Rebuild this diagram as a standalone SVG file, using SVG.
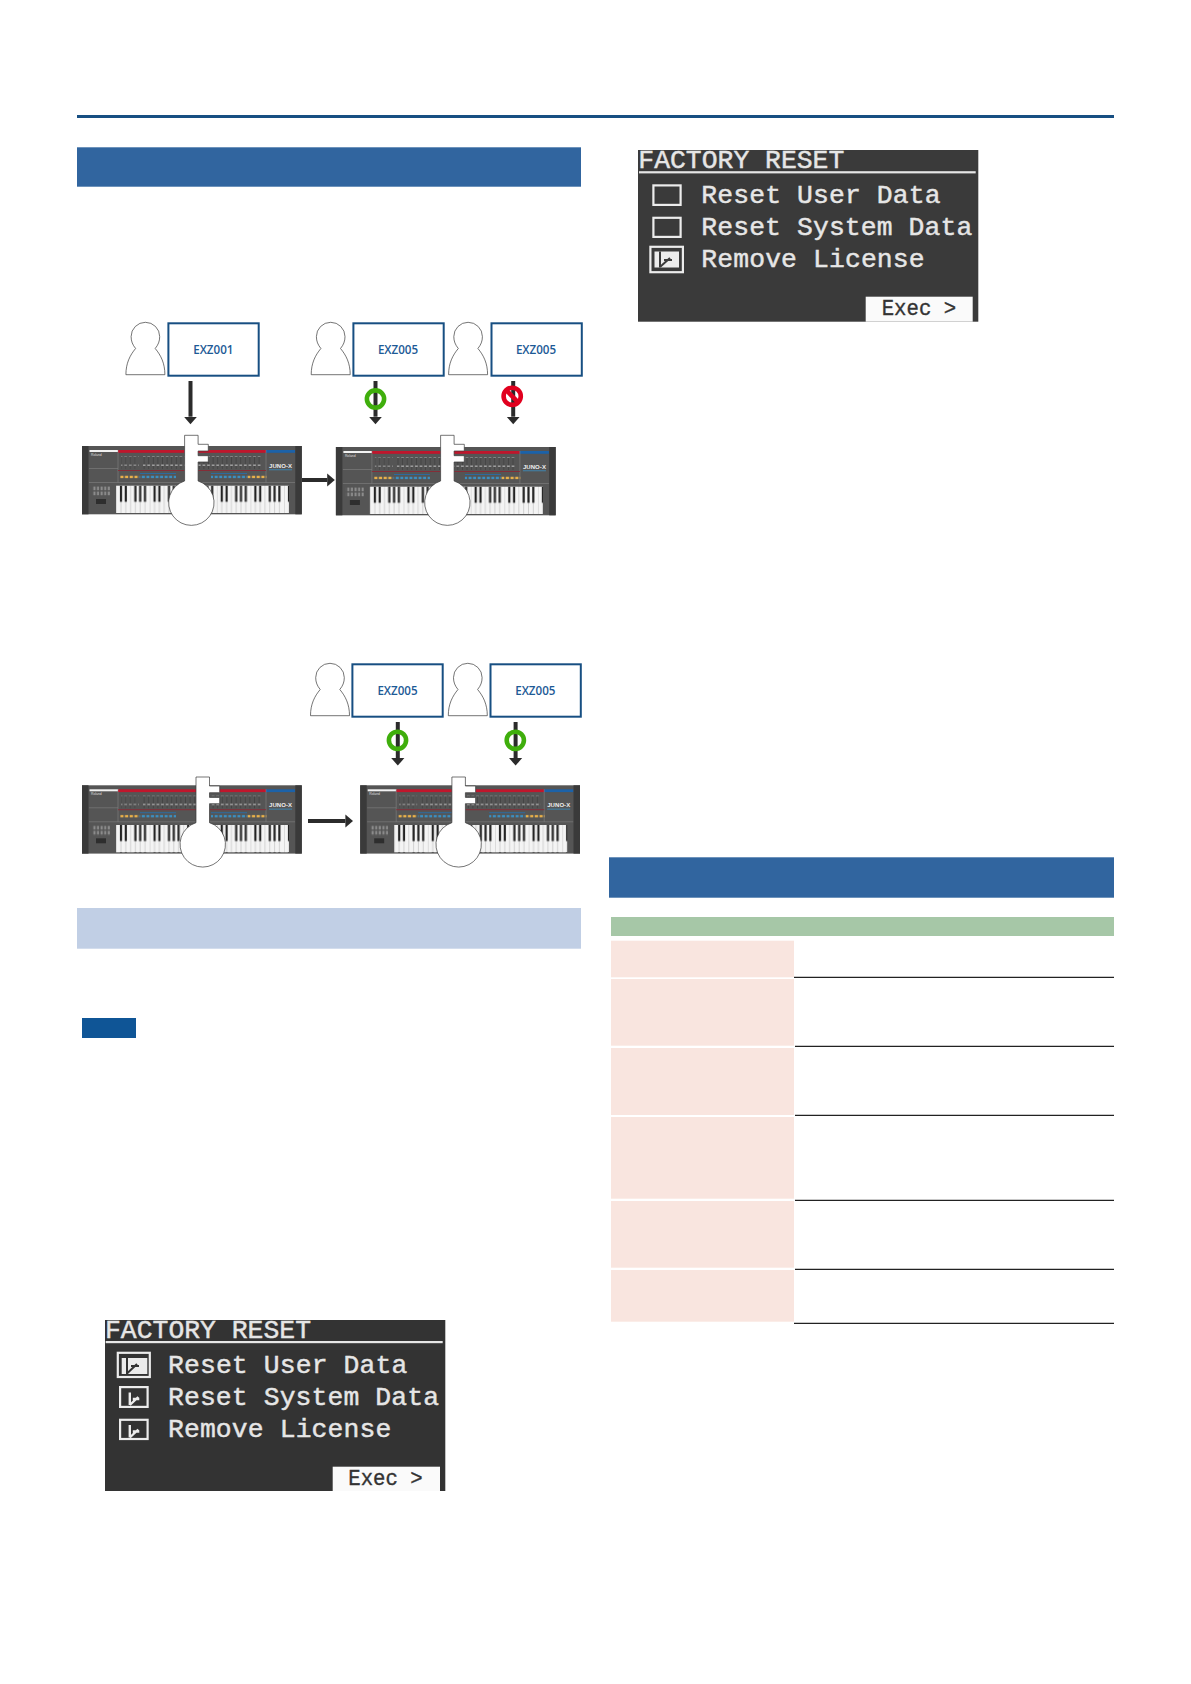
<svg xmlns="http://www.w3.org/2000/svg" xmlns:xlink="http://www.w3.org/1999/xlink" width="1191" height="1684" viewBox="0 0 1191 1684">
<style>
.bar{fill:#31659f}
.lic{fill:#fff;stroke:#174f82;stroke-width:2}
.lbl{font-family:"Open Sans","Liberation Sans",sans-serif;font-size:11.6px;font-weight:600;fill:#1d5a96;text-anchor:middle}
.person{fill:#fff;stroke:#3a3a3a;stroke-width:.7}
.key{fill:#fff;stroke:#3a3a3a;stroke-width:.7}
.wire{stroke:#2b2b2b;stroke-width:4;fill:none;marker-end:url(#head)}
.ok{fill:none;stroke:#3fae0c;stroke-width:4.6}
.no{fill:none;stroke:#e1001e;stroke-width:4.6}
.lcd{font-family:"Liberation Mono",monospace;font-size:26.4px;fill:#e6e6e6;stroke:#e6e6e6;stroke-width:.45}
.exec{font-family:"Liberation Mono",monospace;font-size:22px;fill:#333;stroke:#333;stroke-width:.35}
.frame{fill:none;stroke:#ececec;stroke-width:2.2}
.tick{fill:none;stroke:#ececec;stroke-width:2.4}
.cell{fill:#f9e5df}
.rule{stroke:#222;stroke-width:1.2}
</style>
<defs>
<marker id="head" markerUnits="userSpaceOnUse" viewBox="0 -7 8 14" refX="0" refY="0" markerWidth="8" markerHeight="14" orient="auto"><path d="M0 -6.6L7.6 0L0 6.6Z" fill="#2b2b2b"/></marker>
<pattern id="keys" patternUnits="userSpaceOnUse" x="34" y="39.7" width="33.6" height="27.3">
<rect width="33.6" height="27.3" fill="#f4f4f4"/>
<path d="M.2 0V28M5 0V28M9.8 0V28M14.6 0V28M19.4 0V28M24.2 0V28M29 0V28" stroke="#a5a5a5" stroke-width=".45"/>
<path d="M3.9 0h2.2v16h-2.2zM8.7 0h2.2v16h-2.2zM18.3 0h2.2v16h-2.2zM23.1 0h2.2v16h-2.2zM27.9 0h2.2v16h-2.2z" fill="#232323"/>
</pattern>
<pattern id="sliders" patternUnits="userSpaceOnUse" width="4.6" height="14">
<rect x="2" width=".6" height="14" fill="#3a3a3a"/>
<rect x="1" y="4.5" width="2.6" height="1.4" fill="#a8a8a8"/>
<rect x="1" y="10" width="2.6" height=".9" fill="#8a8a8a"/>
</pattern>
<pattern id="blueb" patternUnits="userSpaceOnUse" width="4.55" height="3"><rect x=".7" width="3" height="2.6" fill="#3b8fc2"/></pattern>
<pattern id="orab" patternUnits="userSpaceOnUse" width="4.7" height="3"><rect x=".7" width="3.2" height="2.6" fill="#e8b04a"/></pattern>
<pattern id="pads" patternUnits="userSpaceOnUse" width="3.6" height="5"><rect x=".6" y=".6" width="2" height="3.6" fill="#8d8d8d"/></pattern>
<g id="synth">
<rect width="219.8" height="68.3" fill="#555"/>
<rect width="6.5" height="68.3" fill="#3a3a3a"/>
<rect x="213.3" width="6.5" height="68.3" fill="#3a3a3a"/>
<rect x="7.5" y="4" width="29" height="2" fill="#f2f2f2"/>
<rect x="36" y="4" width="148" height="2.8" fill="#c0162c"/>
<rect x="184" y="4" width="29" height="2.8" fill="#1c62a8"/>
<path d="M7 22.5H36M7 36.5H213M36 4V36.5M184 4V36.5" stroke="#8a8a8a" stroke-width=".5" fill="none"/>
<rect x="36" y="24" width="148" height=".9" fill="#8b2a35"/>
<rect x="58" y="27" width="36" height=".9" fill="#2a6ea8"/>
<rect x="129" y="27" width="36" height=".9" fill="#2a6ea8"/>
<rect x="61" y="10" width="119" height="13" fill="url(#sliders)"/>
<rect x="39" y="10" width="18" height="13" fill="url(#sliders)" opacity=".7"/>
<rect x="38" y="29.6" width="18.8" height="2.6" fill="url(#orab)"/>
<rect x="57.6" y="29.6" width="36.4" height="2.6" fill="url(#blueb)"/>
<rect x="129" y="29.6" width="36.4" height="2.6" fill="url(#blueb)"/>
<rect x="165.6" y="29.6" width="18.8" height="2.6" fill="url(#orab)"/>
<text x="9" y="9.8" font-family="Liberation Sans,sans-serif" font-size="3.4" fill="#ddd">Roland</text>
<text x="187" y="21.5" font-family="Liberation Sans,sans-serif" font-size="6" font-weight="700" fill="#eee" textLength="23">JUNO-X</text>
<rect x="187" y="23.4" width="23" height=".8" fill="#3b8fc2"/>
<rect x="10" y="40" width="18" height="10" fill="url(#pads)"/>
<rect x="14" y="53" width="10" height="5" fill="#2e2e2e"/>
<rect x="34" y="39.7" width="173" height="27.3" fill="url(#keys)"/>
</g>
<path id="man" class="person" d="M-19.5 52.4C-19.5 41 -15.5 33 -9.8 26.2C-12.8 22.5 -14.3 19 -14.3 14.3A14.3 14.3 0 0 1 14.3 14.3C14.3 19 12.8 22.5 9.8 26.2C15.5 33 19.5 41 19.5 52.4Z"/>
<path id="keyshape" class="key" d="M0 0H13.5V9H23.7V15.7H13.5V20.4H23.7V26.7H13.5V45.7A22.7 22.7 0 1 1 0 45.7Z"/>
<g id="check"><path class="tick" d="M0 0V12.5M0 12.5L8.5 4.5M3 6.5H9.5"/></g>
</defs>

<rect id="top-rule" x="77" y="115" width="1037" height="3" fill="#174f82"/>
<rect id="head-1" class="bar" x="77" y="147.3" width="504" height="39.4"/>

<g id="user-1"><use xlink:href="#man" href="#man" x="145.4" y="322.3"/><rect class="lic" x="168.4" y="323.3" width="90.3" height="52.4"/><text class="lbl" x="213.3" y="354">EXZ001</text></g>
<g id="user-2"><use xlink:href="#man" href="#man" x="330.7" y="322.3"/><rect class="lic" x="353.4" y="323.3" width="90.3" height="52.4"/><text class="lbl" x="398" y="354">EXZ005</text></g>
<g id="user-3"><use xlink:href="#man" href="#man" x="468.1" y="322.3"/><rect class="lic" x="491.5" y="323.3" width="90.3" height="52.4"/><text class="lbl" x="536" y="354">EXZ005</text></g>

<g id="synth-1"><use xlink:href="#synth" href="#synth" x="82" y="446"/><use xlink:href="#keyshape" href="#keyshape" x="184.6" y="435.3"/></g>
<g id="synth-2"><use xlink:href="#synth" href="#synth" x="335.9" y="447"/><use xlink:href="#keyshape" href="#keyshape" x="440.6" y="435.3"/></g>

<g id="user-4"><use xlink:href="#man" href="#man" x="330" y="663.3"/><rect class="lic" x="352.4" y="664.3" width="90.3" height="52.4"/><text class="lbl" x="397.5" y="695">EXZ005</text></g>
<g id="user-5"><use xlink:href="#man" href="#man" x="467.8" y="663.3"/><rect class="lic" x="490.5" y="664.3" width="90.3" height="52.4"/><text class="lbl" x="535.3" y="695">EXZ005</text></g>

<g id="synth-3"><use xlink:href="#synth" href="#synth" x="82" y="785.3"/><use xlink:href="#keyshape" href="#keyshape" x="196" y="777"/></g>
<g id="synth-4"><use xlink:href="#synth" href="#synth" x="360.2" y="785.3"/><use xlink:href="#keyshape" href="#keyshape" x="451.9" y="777"/></g>

<g id="connectors">
<line class="wire" x1="190.5" y1="381" x2="190.5" y2="416.7"/>
<line class="wire" x1="375.5" y1="381" x2="375.5" y2="416.7"/>
<line class="wire" x1="513.2" y1="381" x2="513.2" y2="416.7"/>
<line class="wire" x1="302" y1="480" x2="327.2" y2="480"/>
<line class="wire" x1="397.8" y1="722" x2="397.8" y2="758"/>
<line class="wire" x1="515.6" y1="722" x2="515.6" y2="758"/>
<line class="wire" x1="308" y1="821" x2="345.4" y2="821"/>
<circle class="ok" cx="375.5" cy="399" r="8.6"/>
<g class="no"><circle cx="512.2" cy="396.3" r="8.6"/><line x1="506" y1="390" x2="518.4" y2="402.6"/></g>
<circle class="ok" cx="397.5" cy="740.3" r="8.6"/>
<circle class="ok" cx="515.3" cy="740.3" r="8.6"/>
</g>

<rect id="head-2" x="77" y="908" width="504" height="40.7" fill="#c1cfe5"/>
<rect id="note" x="82" y="1018" width="54" height="20" fill="#0f5596"/>

<g id="lcd-1">
<rect x="105" y="1320" width="340.3" height="171" fill="#333"/>
<text class="lcd" x="105" y="1338.3" textLength="206">FACTORY RESET</text>
<rect x="105.7" y="1341" width="337" height="2.2" fill="#e6e6e6"/>
<rect class="frame" x="117.8" y="1352.8" width="32" height="24.2"/>
<rect x="121.7" y="1358" width="25.6" height="16" fill="#ececec"/>
<path d="M127 1358V1374M127.5 1373L137 1364M131 1366H139" fill="none" stroke="#333" stroke-width="2"/>
<rect class="frame" x="120.1" y="1387.1" width="27.5" height="19.8"/>
<use xlink:href="#check" href="#check" x="129.8" y="1392.5"/>
<text class="lcd" x="168" y="1372.7" textLength="239.3">Reset User Data</text>
<text class="lcd" x="168" y="1405" textLength="271">Reset System Data</text>
<rect class="frame" x="120.1" y="1419.8" width="27.5" height="19.2"/>
<use xlink:href="#check" href="#check" x="129.8" y="1425"/>
<text class="lcd" x="168" y="1437.3" textLength="223.3">Remove License</text>
<rect x="332.7" y="1466.7" width="107.3" height="24.3" fill="#fafafa"/>
<text class="exec" x="348.3" y="1485" textLength="74.4" lengthAdjust="spacingAndGlyphs">Exec &gt;</text>
</g>

<g id="lcd-2">
<rect x="638" y="150" width="340.3" height="171.7" fill="#3a3a3a"/>
<text class="lcd" x="638.3" y="167.7" textLength="206">FACTORY RESET</text>
<rect x="639" y="171.2" width="336.7" height="2.2" fill="#e6e6e6"/>
<rect class="frame" x="653.4" y="185.4" width="27.2" height="19.5"/>
<text class="lcd" x="701.3" y="202.7" textLength="239.3">Reset User Data</text>
<rect class="frame" x="653.4" y="217.8" width="27.2" height="19.1"/>
<text class="lcd" x="701.3" y="235" textLength="271">Reset System Data</text>
<rect class="frame" x="650.4" y="246.8" width="32.5" height="25.4"/>
<rect x="654.5" y="251.5" width="24.5" height="16" fill="#ececec"/>
<path d="M660 251.5V267.5M660.5 266.5L670 258M664 260H672" fill="none" stroke="#3a3a3a" stroke-width="2"/>
<text class="lcd" x="701.3" y="267" textLength="223.3">Remove License</text>
<rect x="865.7" y="296.7" width="107" height="25" fill="#fafafa"/>
<text class="exec" x="881.7" y="315" textLength="74.4" lengthAdjust="spacingAndGlyphs">Exec &gt;</text>
</g>

<rect id="head-3" class="bar" x="609" y="857.3" width="505" height="40.4"/>
<g id="table">
<rect x="611" y="917" width="503" height="19" fill="#a6c7a7"/>
<rect class="cell" x="611" y="940.7" width="183" height="36.6"/>
<rect class="cell" x="611" y="979" width="183" height="66.7"/>
<rect class="cell" x="611" y="1048" width="183" height="67"/>
<rect class="cell" x="611" y="1117" width="183" height="81.7"/>
<rect class="cell" x="611" y="1201" width="183" height="66.7"/>
<rect class="cell" x="611" y="1270" width="183" height="51.7"/>
<path class="rule" d="M794 977.3H1114M795 1046.3H1114M795 1115.3H1114M795 1200.3H1114M795 1269.3H1114M794 1323.3H1114"/>
</g>
</svg>
